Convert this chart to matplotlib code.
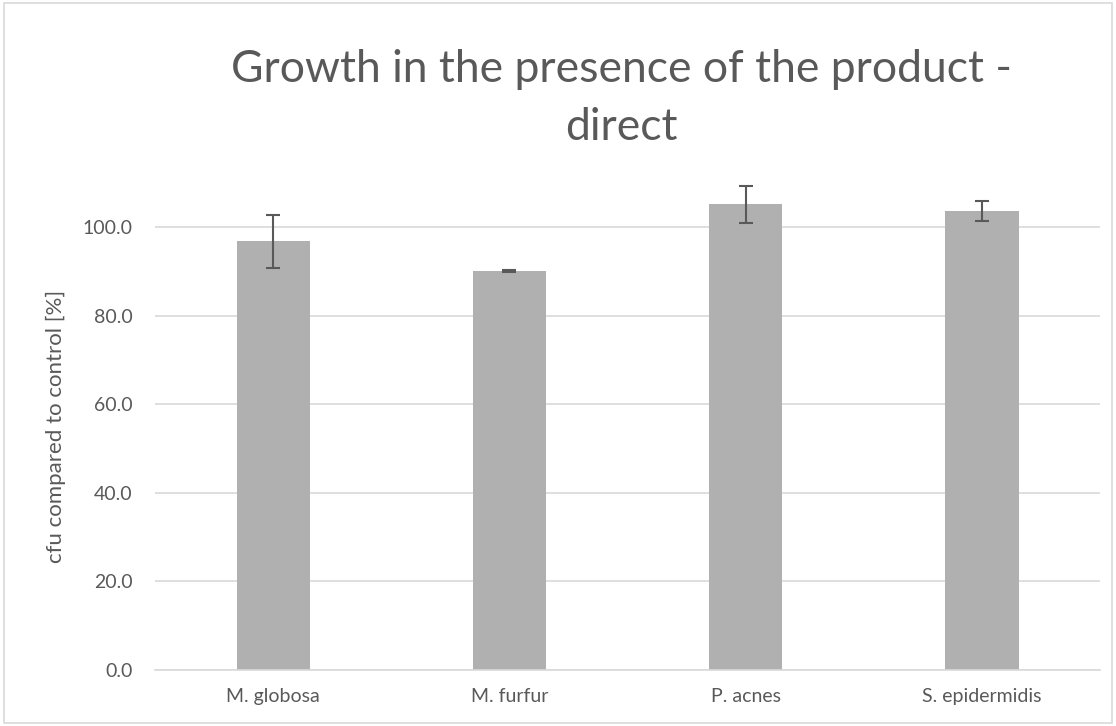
import matplotlib.pyplot as plt
import numpy as np
from matplotlib.patches import Rectangle

categories = ['M. globosa', 'M. furfur', 'P. acnes', 'S. epidermidis']
values = [96.8, 90.0, 105.1, 103.6]
errors = [6.0, 0.2, 4.1, 2.3]

plt.rcParams['font.family'] = ['Lato', 'DejaVu Sans']
txt = '#595959'

fig = plt.figure(figsize=(11.16, 7.26), dpi=100, facecolor='white')
ax = fig.add_axes([0.1389, 0.0771, 0.8468, 0.6712])

x = np.arange(len(categories))
ax.bar(x, values, width=0.31, color='#b0b0b0', zorder=2)
ax.errorbar(x, values, yerr=errors, fmt='none', ecolor='#595959',
            elinewidth=1.5, capsize=5, capthick=1.5, zorder=3)

ax.set_xlim(-0.5, len(categories) - 0.5)
ax.set_ylim(0, 110)
ax.set_yticks([0, 20, 40, 60, 80, 100])
ax.set_yticklabels([f'{v:.1f}' for v in [0, 20, 40, 60, 80, 100]])
ax.set_xticks(x)
ax.set_xticklabels(categories)
ax.yaxis.grid(True, color='#d9d9d9', linewidth=1.2, zorder=0)
ax.set_axisbelow(True)
for s in ['top', 'right', 'left']:
    ax.spines[s].set_visible(False)
ax.spines['bottom'].set_color('#d9d9d9')
ax.spines['bottom'].set_linewidth(1.2)
ax.tick_params(axis='both', length=0, colors=txt)
ax.tick_params(axis='y', pad=16, labelsize=14)
ax.tick_params(axis='x', pad=13, labelsize=14)

ax.set_ylabel('cfu compared to control [%]', color=txt, fontsize=16, labelpad=12)

# title, two lines placed on their baselines
fig.text(0.5565, 1 - 82 / 726, 'Growth in the presence of the product -',
         ha='center', va='baseline', fontsize=32, color=txt)
fig.text(0.5565, 1 - 140 / 726, 'direct',
         ha='center', va='baseline', fontsize=32, color=txt)

fig.patches.append(Rectangle((0.004, 0.004), 0.992, 0.992, transform=fig.transFigure,
                             fill=False, edgecolor='#d9d9d9', linewidth=1.2))

fig.savefig('out.png', dpi=100)
